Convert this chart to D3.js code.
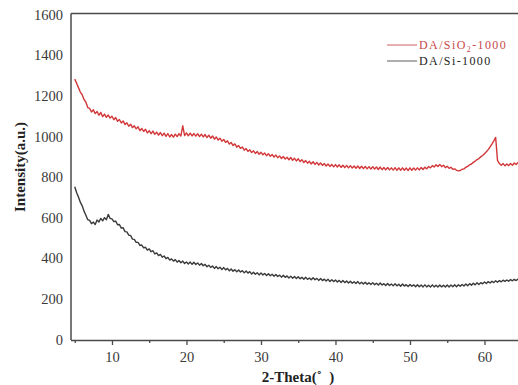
<!DOCTYPE html>
<html><head><meta charset="utf-8">
<script src="https://cdn.jsdelivr.net/npm/d3@7/dist/d3.min.js"></script>
</head>
<body style="margin:0">
<script>
// 2-Theta sampling: start and step (degrees)
const thetaStart = 5;
const thetaStep = 0.25;
const xTicks = [10, 20, 30, 40, 50, 60];
const xMinorTicks = [5, 15, 25, 35, 45, 55, 65];
const yTicks = [0, 200, 400, 600, 800, 1000, 1200, 1400, 1600];
const seriesNames = ["DA/SiO2-1000", "DA/Si-1000"];

// DA/SiO2-1000 intensity (red)
const sio2 = [
1282,1262,1240,1218,1205,1182,1168,1142,
1138,1120,1131,1112,1122,1104,1118,1097,
1110,1094,1105,1090,1099,1082,1093,1074,
1083,1066,1076,1058,1067,1050,1060,1043,
1052,1037,1047,1028,1039,1024,1035,1017,
1028,1013,1026,1010,1021,1006,1019,1003,
1016,1000,1014,997,1009,996,1011,999,
1013,1002,1052,1004,1017,1003,1016,1002,
1014,1001,1013,999,1011,997,1009,994,
1006,991,1002,986,997,982,991,976,
985,970,978,962,970,955,963,947,
955,941,948,932,940,926,934,920,
929,916,925,912,922,909,918,905,
915,902,911,898,908,895,904,891,
901,888,897,885,896,882,892,879,
890,876,885,871,881,868,877,864,
875,862,872,859,869,857,866,854,
864,852,862,850,861,849,860,847,
858,846,857,845,856,844,854,843,
854,842,853,841,852,840,851,839,
851,839,849,837,849,836,847,835,
847,835,845,834,846,833,845,833,
845,833,844,832,845,833,844,834,
845,835,847,837,848,840,852,845,
856,849,860,852,862,851,858,846,
853,843,848,838,840,833,830,832,
838,840,848,852,860,864,872,878,
886,891,899,906,915,924,935,948,
962,978,995,882,866,858,866,855,
864,856,866,858,869,862,872,866,
874];

// DA/Si-1000 intensity (black)
const si = [
752,724,702,676,658,632,612,590,
586,570,578,566,588,579,596,584,
600,590,616,596,594,580,583,565,
566,548,550,531,530,514,512,494,
493,478,478,463,465,451,454,440,
446,432,437,421,426,413,419,405,
411,398,404,391,397,386,393,381,
389,378,386,374,382,372,381,370,
380,369,377,366,374,363,370,358,
366,355,362,350,359,348,356,344,
354,343,350,338,347,336,344,333,
342,332,339,328,337,327,334,322,
331,321,329,318,328,318,325,315,
324,314,321,311,320,310,317,307,
316,306,313,303,312,302,310,300,
309,299,306,297,306,296,303,294,
304,294,301,291,300,290,297,288,
297,285,294,285,293,283,291,281,
290,280,288,278,287,277,284,276,
285,274,282,273,282,272,279,271,
280,270,277,268,278,268,275,266,
276,266,273,264,274,264,272,262,
273,263,270,261,271,262,269,260,
270,260,268,259,269,259,267,258,
269,259,267,258,268,259,267,258,
268,259,268,260,269,260,270,262,
271,263,273,265,275,267,277,269,
279,271,280,274,283,276,285,278,
287,280,289,282,290,284,292,286,
293,287,295,289,296,290,298,292,
299];

const W = 518, H = 385;
const m = {left: 71};
const FONT = "'Liberation Serif'";
const svg = d3.select("body").append("svg").attr("width", W).attr("height", H).style("display", "block");

const x = d3.scaleLinear().domain([4.5, 64.5]).range([m.left, W]);
const y = d3.scaleLinear().domain([0, 1600]).range([339.5, 14.5]);

svg.append("clipPath").attr("id", "clip").append("rect")
  .attr("x", m.left + 1).attr("y", 0).attr("width", W - m.left).attr("height", 340);

const toPts = arr => arr.map((v, i) => [thetaStart + i * thetaStep, v]);
const line = d3.line().x(d => x(d[0])).y(d => y(d[1]));

const colors = ["#d2383a", "#3a3a3a"];
const g = svg.append("g").attr("clip-path", "url(#clip)");
g.append("path").datum(toPts(sio2)).attr("d", line)
  .attr("fill", "none").attr("stroke", colors[0]).attr("stroke-width", 1.4).attr("stroke-linejoin", "round");
g.append("path").datum(toPts(si)).attr("d", line)
  .attr("fill", "none").attr("stroke", colors[1]).attr("stroke-width", 1.4).attr("stroke-linejoin", "round");

// frame: left and top
const axisColor = "#4a4a4a";
svg.append("line").attr("x1", m.left).attr("x2", m.left).attr("y1", 13.5).attr("y2", 340)
  .attr("stroke", axisColor).attr("stroke-width", 1.5);
svg.append("line").attr("x1", m.left).attr("x2", W).attr("y1", 13.5).attr("y2", 13.5)
  .attr("stroke", axisColor).attr("stroke-width", 1.5);

// x axis
const xAxis = d3.axisBottom(x).tickValues(xTicks).tickSize(5).tickSizeOuter(0).tickPadding(7).tickFormat(d3.format("d"));
const xg = svg.append("g").attr("transform", "translate(0,340)").call(xAxis);
xg.attr("font-family", null).attr("font-size", null);
xg.select(".domain").attr("stroke", axisColor).attr("stroke-width", 1.5).attr("d", `M${m.left},0.5H${W}`);
xg.selectAll(".tick line").attr("stroke", axisColor).attr("stroke-width", 1.3);
xg.selectAll(".tick text").attr("fill", "#3a3a3a").style("font-family", FONT).style("font-size", "14.5px");
const xm = d3.axisBottom(x).tickValues(xMinorTicks).tickSize(3).tickFormat("");
const xmg = svg.append("g").attr("transform", "translate(0,340)").call(xm);
xmg.select(".domain").remove();
xmg.selectAll(".tick line").attr("stroke", axisColor).attr("stroke-width", 1.3);

// y axis (labels only)
const yAxis = d3.axisLeft(y).tickValues(yTicks).tickSize(0).tickPadding(8).tickFormat(d3.format("d"));
const yg = svg.append("g").attr("transform", `translate(${m.left},0)`).call(yAxis);
yg.attr("font-family", null).attr("font-size", null);
yg.select(".domain").remove();
yg.selectAll(".tick text").attr("fill", "#3a3a3a").style("font-family", FONT).style("font-size", "14.5px");

// axis titles
svg.append("text").attr("transform", "translate(25,167) rotate(-90)")
  .attr("text-anchor", "middle").style("font-size", "15px").style("font-weight", "bold")
  .style("font-family", FONT).attr("fill", "#222").text("Intensity(a.u.)");
svg.append("text").attr("x", 298).attr("y", 382)
  .attr("text-anchor", "middle").style("font-size", "15px").style("font-weight", "bold")
  .style("font-family", FONT).attr("fill", "#222").style("white-space", "pre").text("2-Theta(\u02DA  )");

// legend
const lg = svg.append("g");
const legY = [45, 61];
seriesNames.forEach((n, i) => {
  lg.append("line").attr("x1", 387).attr("x2", 417).attr("y1", legY[i]).attr("y2", legY[i])
    .attr("stroke", i === 0 ? "#d97a7c" : "#777").attr("stroke-width", 1.2);
  const t = lg.append("text").attr("x", 419).attr("y", legY[i] + 4)
    .style("font-size", "12px").style("letter-spacing", "1.4px").style("font-family", FONT)
    .attr("fill", i === 0 ? "#c9474a" : "#222");
  if (n.indexOf("SiO2") >= 0) {
    t.append("tspan").text("DA/SiO");
    t.append("tspan").style("font-size", "8px").attr("dy", 3).text("2");
    t.append("tspan").attr("dy", -3).text("-1000");
  } else {
    t.text(n);
  }
});
</script>
</body></html>
